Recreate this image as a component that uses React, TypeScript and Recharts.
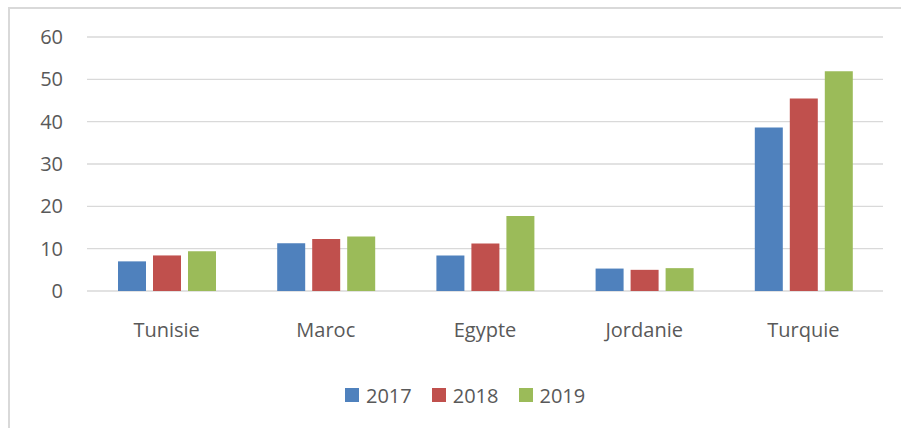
import React from 'react';
import {
  BarChart,
  Bar,
  XAxis,
  YAxis,
  CartesianGrid,
  Legend
} from 'recharts';

const countries = ['Tunisie', 'Maroc', 'Egypte', 'Jordanie', 'Turquie'];
const values2017 = [7.0, 11.3, 8.4, 5.3, 38.6];
const values2018 = [8.4, 12.3, 11.2, 5.0, 45.5];
const values2019 = [9.4, 12.9, 17.7, 5.4, 51.9];
const yTicks = [0, 10, 20, 30, 40, 50, 60];

const seriesList = [
  { key: 'y2017', name: '2017', color: '#4f81bd' },
  { key: 'y2018', name: '2018', color: '#c0504d' },
  { key: 'y2019', name: '2019', color: '#9bbb59' }
];

const chartData = countries.map((c, i) => ({
  country: c,
  y2017: values2017[i],
  y2018: values2018[i],
  y2019: values2019[i]
}));

const FONT = '"Open Sans", sans-serif';
const TEXT = '#595959';

const LegendBox = ({ payload }: any) => (
  <div style={{ display: 'flex', height: 30, alignItems: 'center', paddingLeft: 345, fontFamily: FONT, fontSize: 20, color: TEXT }}>
    {(payload || []).map((p: any) => (
      <div key={p.value} style={{ display: 'flex', alignItems: 'center', marginRight: 20 }}>
        <span style={{ width: 14, height: 14, background: p.color, marginRight: 7, display: 'inline-block' }} />
        <span>{p.value}</span>
      </div>
    ))}
  </div>
);

export default function App() {
  return (
    <div style={{ position: 'absolute', left: 0, top: 0, width: 901, height: 428, overflow: 'hidden', background: '#fff' }}>
      {/* outer frame, only left and top edges show in the crop */}
      <div style={{ position: 'absolute', left: 8, top: 7, width: 900, height: 430, borderLeft: '2px solid #d9d9d9', borderTop: '2px solid #d9d9d9' }} />
      <div style={{ position: 'absolute', left: 0, top: 0 }}>
        <BarChart
          width={901}
          height={428}
          data={chartData}
          margin={{ top: 37, right: 18, left: 0, bottom: 18 }}
          barSize={28}
          barGap={7}
        >
          <CartesianGrid vertical={false} stroke="#d9d9d9" strokeWidth={1.3} />
          <XAxis
            dataKey="country"
            axisLine={false}
            tickLine={false}
            tickSize={0}
            tickMargin={32}
            height={89}
            tick={{ fontFamily: FONT, fontSize: 20, fill: TEXT }}
            interval={0}
          />
          <YAxis
            domain={[0, 60]}
            ticks={yTicks}
            axisLine={false}
            tickLine={false}
            tickSize={0}
            tickMargin={24}
            width={87}
            tick={{ fontFamily: FONT, fontSize: 20, fill: TEXT }}
          />
          <Legend verticalAlign="bottom" content={<LegendBox />} />
          {seriesList.map((s) => (
            <Bar key={s.key} dataKey={s.key} name={s.name} fill={s.color} isAnimationActive={false} />
          ))}
        </BarChart>
      </div>
    </div>
  );
}
